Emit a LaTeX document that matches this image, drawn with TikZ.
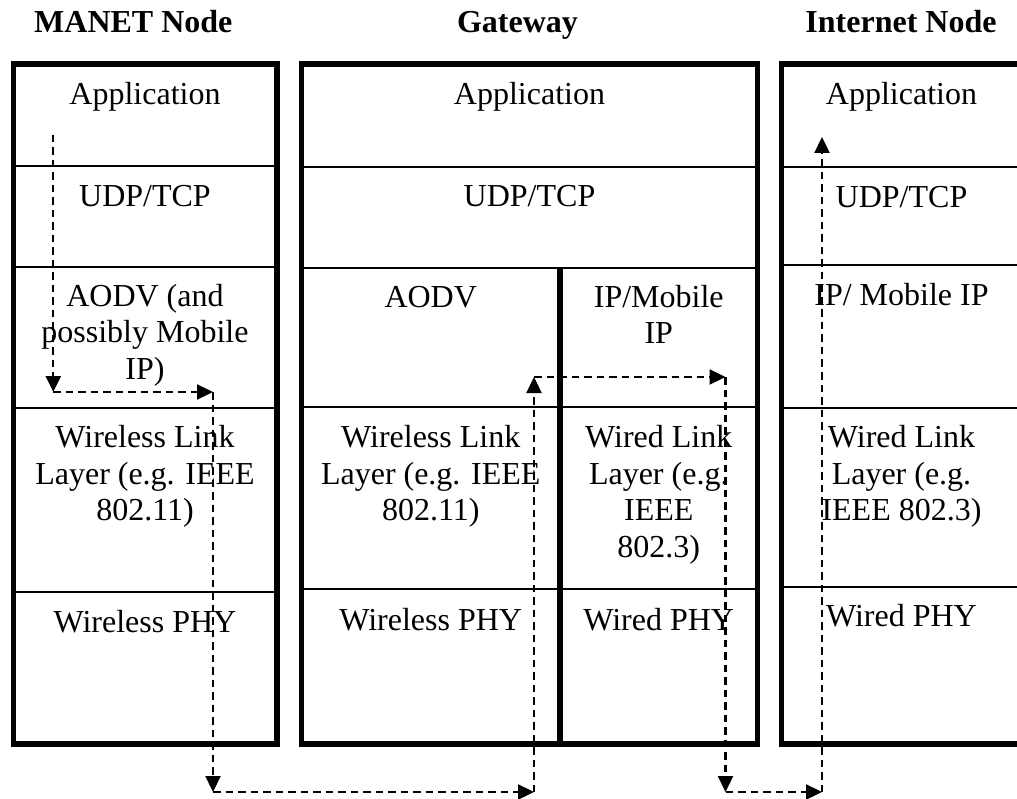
\documentclass[tikz,border=0pt]{standalone}
\usepackage{fontspec}
\setmainfont{Liberation Serif}
\usetikzlibrary{arrows.meta}
% zero-width strut that fixes the first baseline below a cell's top
\newcommand{\cellstrut}{\rule{0pt}{26pt}}
\begin{document}
\begin{tikzpicture}[x=1pt,y=-1pt,
  frame/.style={line width=5.5pt},
  rowline/.style={line width=2.6pt},
  celltext/.style={anchor=north, inner sep=0pt, align=center,
    font=\fontsize{32}{36.8}\selectfont},
  title/.style={anchor=base, inner sep=0pt,
    font=\fontsize{32}{36.8}\selectfont\bfseries},
  flow/.style={line width=2.3pt, dash pattern=on 7.5pt off 5pt,
    -{Triangle[length=16pt,width=15pt]}}
]
\clip (0,0) rectangle (1017,799);

% ---- column titles
\node[title] (t-manet) at (133.3,33) {MANET Node};
\node[title] (t-gw)    at (517.5,33) {Gateway};
\node[title] (t-inet)  at (901,33)   {Internet Node};

% ---- MANET node stack
\foreach \y in {166,267,408,592}
  \draw[rowline] (13.5,\y) -- (277,\y);
\draw[frame] (13.5,64) rectangle (277,744);

\node[celltext] (m-app)  at (145,78)  {\cellstrut Application};
\node[celltext] (m-udp)  at (145,180) {\cellstrut UDP/TCP};
\node[celltext] (m-aodv) at (145,280) {\cellstrut AODV (and\\possibly Mobile\\IP)};
\node[celltext] (m-link) at (145,421) {\cellstrut Wireless Link\\Layer (e.g. IEEE\\802.11)};
\node[celltext] (m-phy)  at (145,606) {\cellstrut Wireless PHY};

% ---- gateway stack
\foreach \y in {167,268,407,589}
  \draw[rowline] (301.5,\y) -- (757.5,\y);
\draw[frame] (560,268) -- (560,744);
\draw[frame] (301.5,64) rectangle (757.5,744);

\node[celltext] (g-app)   at (529.5,78)   {\cellstrut Application};
\node[celltext] (g-udp)   at (529.5,180)  {\cellstrut UDP/TCP};
\node[celltext] (g-aodv)  at (430.75,281) {\cellstrut AODV};
\node[celltext] (g-ip)    at (658.75,281) {\cellstrut IP/Mobile\\IP};
\node[celltext] (g-wlink) at (430.75,421) {\cellstrut Wireless Link\\Layer (e.g. IEEE\\802.11)};
\node[celltext] (g-dlink) at (658.75,421) {\cellstrut Wired Link\\Layer (e.g.\\IEEE\\802.3)};
\node[celltext] (g-wphy)  at (430.75,604) {\cellstrut Wireless PHY};
\node[celltext] (g-dphy)  at (658.75,604) {\cellstrut Wired PHY};

% ---- internet node stack (runs past the right edge)
\foreach \y in {167,265,408,587}
  \draw[rowline] (781.5,\y) -- (1030,\y);
\draw[frame] (1030,64) -- (781.5,64) -- (781.5,744) -- (1030,744);

\node[celltext] (i-app)  at (901.5,78)  {\cellstrut Application};
\node[celltext] (i-udp)  at (901.5,181) {\cellstrut UDP/TCP};
\node[celltext] (i-ip)   at (901.5,279) {\cellstrut IP/ Mobile IP};
\node[celltext] (i-link) at (901.5,421) {\cellstrut Wired Link\\Layer (e.g.\\IEEE 802.3)};
\node[celltext] (i-phy)  at (901.5,600) {\cellstrut Wired PHY};

% ---- packet path through the stacks
\coordinate (a0) at (53.3,135);
\coordinate (a1) at (53.3,392);
\coordinate (a2) at (213,392);
\coordinate (a3) at (213,792);
\coordinate (a4) at (534,792);
\coordinate (a5) at (534,377);
\coordinate (a6) at (725.5,377);
\coordinate (a7) at (725.5,792);
\coordinate (a8) at (822,792);
\coordinate (a9) at (822,137);

\draw[flow] (a0) -- (a1);
\draw[flow] (a1) -- (a2);
\draw[flow] (a2) -- (a3);
\draw[flow] (a3) -- (a4);
\draw[flow] (a4) -- (a5);
\draw[flow] (a5) -- (a6);
\draw[flow] (a6) -- (a7);
\draw[flow] (a7) -- (a8);
\draw[flow] (a8) -- (a9);
\end{tikzpicture}
\end{document}
